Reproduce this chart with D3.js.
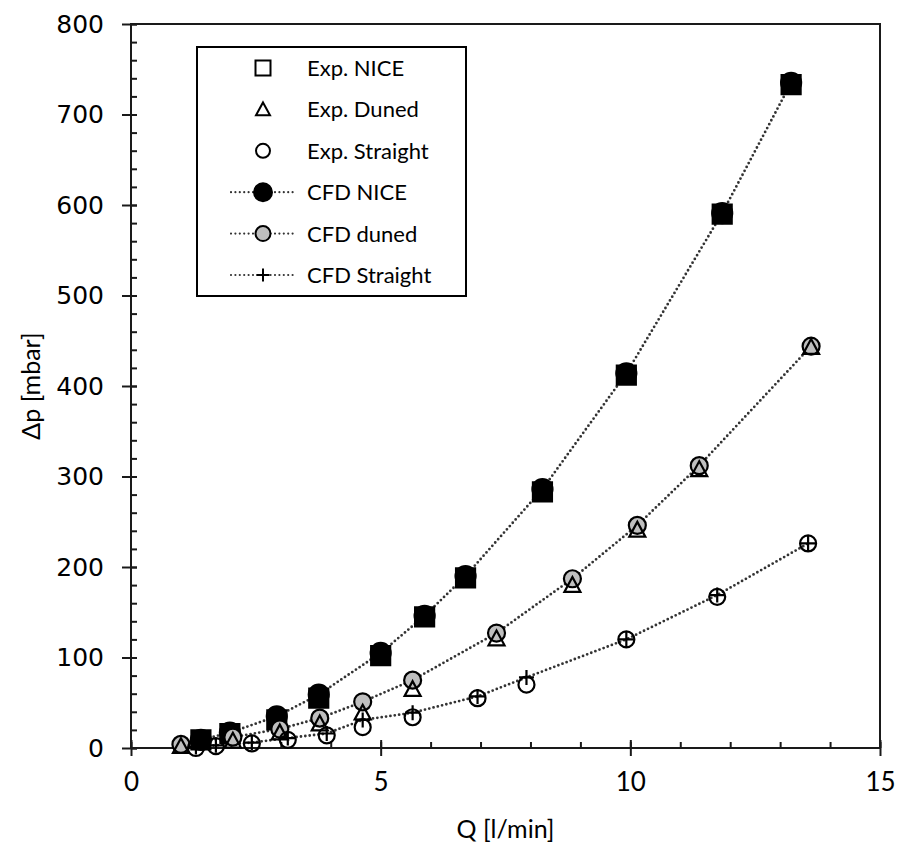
<!DOCTYPE html>
<html>
<head>
<meta charset="utf-8">
<script src="https://cdn.jsdelivr.net/npm/d3@7"></script>
<style>
  body { margin: 0; background: #fff; }
  svg { display: block; }
  .lbl { font-family: Lato, "Open Sans", sans-serif; fill: #000; }
  .ytk text { font-family: "DejaVu Sans", sans-serif; font-size: 25px; }
  .xtk text { font-family: Lato, sans-serif; font-size: 26px; }
</style>
</head>
<body>
<svg id="chart" width="897" height="849"></svg>
<script>
// flow rate Q [l/min] per case
const qNice = [1.4, 1.98, 2.92, 3.76, 5.0, 5.88, 6.7, 8.24, 9.92, 11.84, 13.22];
const qDuned = [1.0, 2.04, 2.98, 3.78, 4.64, 5.64, 7.32, 8.84, 10.14, 11.38, 13.62];
const qStraight = [1.3, 1.7, 2.42, 3.14, 3.92, 4.64, 5.64, 6.94, 7.92, 9.92, 11.74, 13.56];

// pressure drop [mbar]
const expNice = [9, 16, 31, 55, 102, 145, 188, 283, 412, 590, 733];
const cfdNice = [9, 17, 35, 59, 105, 146, 190, 286, 414, 591, 735];
const expDuned = [2, 8, 17, 27, 39, 65, 121, 180, 241, 308, 443];
const cfdDuned = [4, 12, 21, 33, 51, 75, 127, 187, 246, 312, 444];
const expStraight = [0, 2, 5, 9, 14, 23, 34, 55, 70, 120, 167, 226];
const cfdStraight = [1, 3, 6, 11, 16, 31, 39, 57, 78, 120, 169, 226];

const xTicks = [0, 5, 10, 15];
const yTicks = [0, 100, 200, 300, 400, 500, 600, 700, 800];

const legendLabels = ['Exp. NICE', 'Exp. Duned', 'Exp. Straight', 'CFD NICE', 'CFD duned', 'CFD Straight'];

const svg = d3.select('#chart');
const plotL = 131, plotR = 880, plotT = 24, plotB = 748;

const x = d3.scaleLinear().domain([0, 15]).range([plotL, plotR]);
const y = d3.scaleLinear().domain([0, 800]).range([plotB, plotT]);

// marker shapes, centred on 0,0
function shapePath(kind, s) {
  const h = s / 2;
  if (kind === 'square') return `M${-h},${-h}H${h}V${h}H${-h}Z`;
  if (kind === 'triangle') return `M0,${-h}L${h},${h * 0.85}L${-h},${h * 0.85}Z`;
  if (kind === 'plus') return `M${-h},0H${h}M0,${-h}V${h}`;
  return d3.arc()({ innerRadius: 0, outerRadius: h, startAngle: 0, endAngle: 2 * Math.PI });
}

// in the plot the NICE squares sit under the black CFD dots and read as solid
const styles = {
  'Exp. NICE': { kind: 'square', size: 19, fill: '#000' },
  'Exp. Duned': { kind: 'triangle', size: 16, fill: 'none' },
  'Exp. Straight': { kind: 'circle', size: 16, fill: 'none' },
  'CFD NICE': { kind: 'circle', size: 20, fill: '#000' },
  'CFD duned': { kind: 'circle', size: 17, fill: '#bfbfbf' },
  'CFD Straight': { kind: 'plus', size: 15, fill: 'none' }
};

// frame
svg.append('rect')
  .attr('x', plotL).attr('y', plotT)
  .attr('width', plotR - plotL).attr('height', plotB - plotT)
  .attr('fill', 'none').attr('stroke', '#1a1a1a').attr('stroke-width', 2);

// minor ticks
svg.append('g')
  .attr('transform', `translate(0,${plotB})`)
  .call(d3.axisBottom(x).tickValues(d3.range(0, 16, 1)).tickSize(-6).tickFormat(''))
  .call(g => g.select('.domain').remove())
  .selectAll('line').attr('stroke', '#1a1a1a').attr('stroke-width', 2);

svg.append('g')
  .attr('transform', `translate(${plotL},0)`)
  .call(d3.axisLeft(y).tickValues(d3.range(0, 801, 20)).tickSize(-6).tickFormat(''))
  .call(g => g.select('.domain').remove())
  .selectAll('line').attr('stroke', '#1a1a1a').attr('stroke-width', 2);

// major ticks cross the axis line
const xAxis = svg.append('g')
  .attr('class', 'xtk')
  .attr('transform', `translate(0,${plotB})`)
  .call(d3.axisBottom(x).tickValues(xTicks).tickSize(9).tickPadding(16));
xAxis.select('.domain').remove();
xAxis.selectAll('line').attr('y1', -8).attr('y2', 8).attr('stroke', '#1a1a1a').attr('stroke-width', 2);
xAxis.selectAll('text').attr('fill', '#000');

const yAxis = svg.append('g')
  .attr('class', 'ytk')
  .attr('transform', `translate(${plotL},0)`)
  .call(d3.axisLeft(y).tickValues(yTicks).tickSize(9).tickPadding(18));
yAxis.select('.domain').remove();
yAxis.selectAll('line').attr('x1', -9).attr('x2', 6).attr('stroke', '#1a1a1a').attr('stroke-width', 2);
yAxis.selectAll('text').attr('fill', '#000');

// axis titles
svg.append('text').attr('class', 'lbl')
  .attr('x', (plotL + plotR) / 2).attr('y', 838)
  .attr('text-anchor', 'middle').attr('font-size', 25)
  .text('Q [l/min]');

svg.append('text').attr('class', 'lbl')
  .attr('transform', `translate(40,${(plotT + plotB) / 2}) rotate(-90)`)
  .attr('text-anchor', 'middle').attr('font-size', 25)
  .text('Δp [mbar]');

// dotted CFD lines
const line = d3.line().x(d => x(d[0])).y(d => y(d[1]));
const cfdSeries = [
  ['CFD NICE', d3.zip(qNice, cfdNice)],
  ['CFD duned', d3.zip(qDuned, cfdDuned)],
  ['CFD Straight', d3.zip(qStraight, cfdStraight)]
];
const expSeries = [
  ['Exp. NICE', d3.zip(qNice, expNice)],
  ['Exp. Duned', d3.zip(qDuned, expDuned)],
  ['Exp. Straight', d3.zip(qStraight, expStraight)]
];

function dotted(sel) {
  return sel.attr('fill', 'none').attr('stroke', '#333')
    .attr('stroke-width', 2.8).attr('stroke-linecap', 'round')
    .attr('stroke-dasharray', '0,4.4');
}

cfdSeries.forEach(([name, pts]) => {
  svg.append('path').datum(pts).attr('d', line).call(dotted);
});

function drawMarkers(name, pts) {
  const st = styles[name];
  svg.append('g').selectAll('path')
    .data(pts)
    .join('path')
    .attr('transform', d => `translate(${x(d[0])},${y(d[1])})`)
    .attr('d', shapePath(st.kind, st.size))
    .attr('fill', st.fill)
    .attr('stroke', '#000')
    .attr('stroke-width', 2.2);
}

// NICE squares first, then CFD markers, then the other open Exp markers
drawMarkers(expSeries[0][0], expSeries[0][1]);
cfdSeries.forEach(([name, pts]) => drawMarkers(name, pts));
expSeries.slice(1).forEach(([name, pts]) => drawMarkers(name, pts));

// legend
const lg = svg.append('g');
lg.append('rect')
  .attr('x', 197).attr('y', 47).attr('width', 269).attr('height', 249)
  .attr('fill', '#fff').attr('stroke', '#000').attr('stroke-width', 2);

const rowY = d3.scalePoint().domain(legendLabels).range([68, 275]);

legendLabels.forEach(name => {
  const st = styles[name];
  const cy = rowY(name);
  const open = name.startsWith('Exp');
  if (!open) {
    lg.append('path').attr('d', `M231,${cy}H294`).call(dotted).attr('stroke-width', 2.2);
  }
  lg.append('path')
    .attr('transform', `translate(263,${cy})`)
    .attr('d', shapePath(st.kind, st.kind === 'square' ? 15 : st.size - 2))
    .attr('fill', open ? '#fff' : (st.fill === 'none' ? '#fff' : st.fill))
    .attr('stroke', '#000').attr('stroke-width', 2);
  lg.append('text').attr('class', 'lbl')
    .attr('x', 307).attr('y', cy).attr('dy', '0.36em')
    .attr('font-size', 22)
    .text(name);
});
</script>
</body>
</html>
